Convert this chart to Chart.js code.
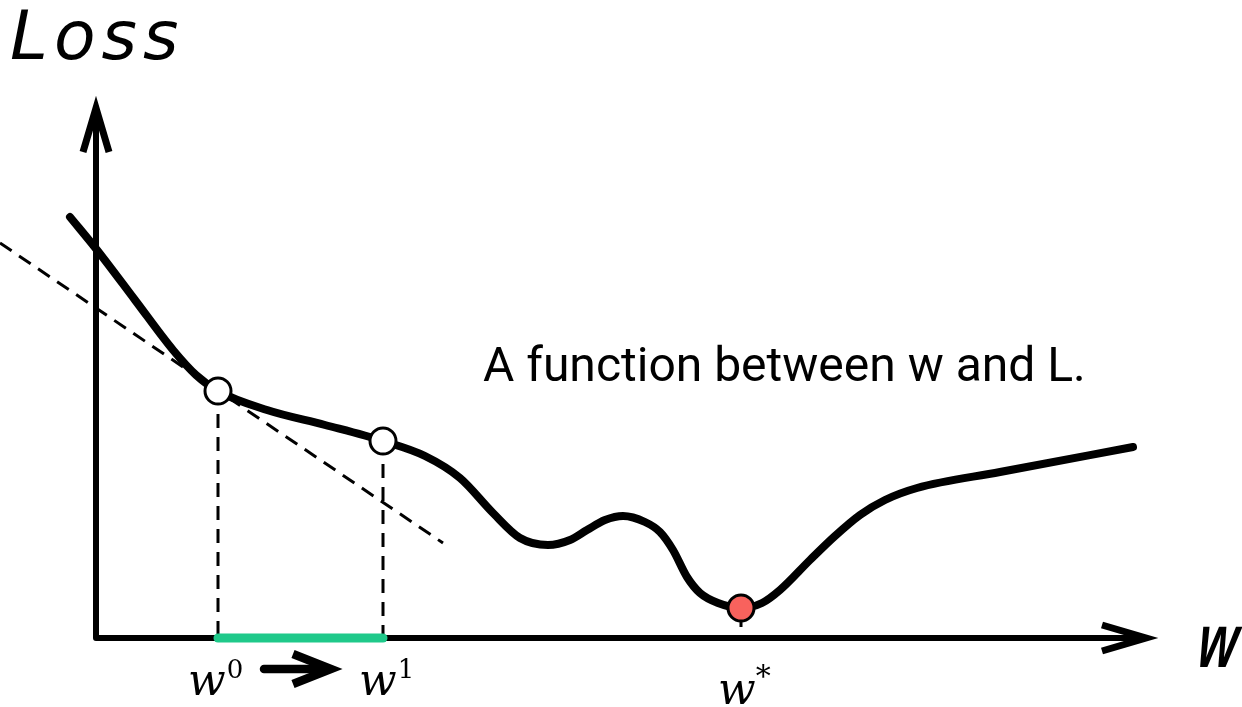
<!DOCTYPE html>
<html>
<head>
<meta charset="utf-8">
<script src="https://cdn.jsdelivr.net/npm/chart.js@4/dist/chart.umd.min.js"></script>
<style>
  html, body { margin: 0; padding: 0; background: #fff; }
  #wrap { width: 1242px; height: 707px; }
</style>
</head>
<body>
<div id="wrap"><canvas id="c" width="1242" height="707"></canvas></div>
<script>
// ---- data (w = weight, L = loss) ----
const curveW = [-0.26, 0.01, 0.39, 0.77, 1.00, 1.22, 1.71, 2.29, 2.87, 3.29, 3.64, 3.97, 4.24, 4.52, 4.74, 4.91, 5.09, 5.27, 5.49, 5.64, 5.77, 5.91, 6.04, 6.22, 6.45, 6.66, 6.84, 7.14, 7.39, 7.64, 7.89, 8.21, 9.04, 10.37];
const curveL = [4.21, 3.88, 3.38, 2.88, 2.63, 2.47, 2.28, 2.13, 1.97, 1.82, 1.60, 1.25, 1.00, 0.93, 0.98, 1.08, 1.18, 1.22, 1.16, 1.06, 0.88, 0.61, 0.45, 0.35, 0.30, 0.35, 0.48, 0.78, 1.02, 1.23, 1.38, 1.50, 1.66, 1.91];

const markerW = [1.22, 2.87, 6.45];
const markerL = [2.47, 1.97, 0.30];
const markerSup = ['0', '1', '*'];
const markerFill = ['#ffffff', '#ffffff', '#f8625d'];

const tangentW = [-0.96, 3.47];
const tangentL = [3.95, 0.95];

const axisW = [0, 10.50];
const axisL = [0, 5.30];

const axisTitleL = 'Loss';
const axisTitleW = 'w';
const note = 'A function between w and L.';

// ---- helpers ----
const pts = (xs, ys) => xs.map((v, i) => ({ x: v, y: ys[i] }));

const overlay = {
  id: 'overlay',
  afterDatasetsDraw(chart) {
    const { ctx, scales: { x, y } } = chart;
    const chevron = (tx, ty, dx, dy, len, half, lw) => {
      const bx = tx - dx * len, by = ty - dy * len;
      const nx = -dy, ny = dx;
      ctx.save();
      ctx.strokeStyle = '#000';
      ctx.lineWidth = lw;
      ctx.lineJoin = 'miter';
      ctx.lineCap = 'butt';
      ctx.beginPath();
      ctx.moveTo(bx + nx * half, by + ny * half);
      ctx.lineTo(tx, ty);
      ctx.lineTo(bx - nx * half, by - ny * half);
      ctx.stroke();
      ctx.restore();
    };
    const ox = x.getPixelForValue(0), oy = y.getPixelForValue(0);
    chevron(ox, y.getPixelForValue(axisL[1]), 0, -1, 44, 13, 7);
    chevron(x.getPixelForValue(axisW[1]), oy, 1, 0, 44, 13, 7);

    const p0 = x.getPixelForValue(markerW[0]);
    const p1 = x.getPixelForValue(markerW[1]);
    const ay = oy + 31;
    ctx.save();
    ctx.strokeStyle = '#000';
    ctx.lineWidth = 8.5;
    ctx.lineCap = 'round';
    ctx.beginPath();
    ctx.moveTo(p0 + 46, ay);
    ctx.lineTo(p1 - 54, ay);
    ctx.stroke();
    ctx.restore();
    chevron(p1 - 52, ay, 1, 0, 38, 15, 8.5);

    ctx.save();
    ctx.fillStyle = '#000';
    ctx.textBaseline = 'alphabetic';
    ctx.textAlign = 'left';
    ctx.font = 'oblique 68px "DejaVu Sans"';
    ctx.letterSpacing = '6px';
    ctx.fillText(axisTitleL, ox - 86, 59);
    ctx.letterSpacing = '0px';
    ctx.save();
    ctx.font = 'italic bold 76px "Liberation Sans"';
    ctx.translate(x.getPixelForValue(axisW[1]) + 50, oy + 29);
    ctx.transform(0.66, 0, -0.12, 1, 0, 0);
    ctx.fillText(axisTitleW, 0, 0);
    ctx.restore();
    ctx.font = '48px Roboto';
    ctx.fillText(note, 483, 381);
    const baseY = [oy + 57, oy + 57, oy + 66];
    const offX = [-30, -24, -23];
    markerW.forEach((w, i) => {
      const px = x.getPixelForValue(w) + offX[i];
      ctx.font = 'italic 44px "DejaVu Serif"';
      ctx.fillText('w', px, baseY[i]);
      const ww = ctx.measureText('w').width;
      if (markerSup[i] === '*') {
        ctx.font = '30px "DejaVu Serif"';
        ctx.fillText('*', px + ww, baseY[i] - 18);
      } else {
        ctx.font = '26px "DejaVu Serif"';
        ctx.fillText(markerSup[i], px + ww + 1, baseY[i] - 17);
      }
    });
    ctx.restore();
  }
};

const dashed = { borderColor: '#000', borderWidth: 3, borderDash: [14, 9], pointRadius: 0, tension: 0, fill: false };

new Chart(document.getElementById('c'), {
  type: 'line',
  data: {
    datasets: [
      { label: 'markers', type: 'scatter', data: pts(markerW, markerL), pointRadius: 13, pointBorderWidth: 3,
        pointBackgroundColor: markerFill, pointBorderColor: '#000', order: 0 },
      { label: 'loss', data: pts(curveW, curveL), borderColor: '#000', borderWidth: 8, pointRadius: 0,
        cubicInterpolationMode: 'monotone', borderCapStyle: 'round', borderJoinStyle: 'round', fill: false, order: 1 },
      { label: 'step', data: [{ x: markerW[0], y: 0 }, { x: markerW[1], y: 0 }], borderColor: '#1fc98a', borderWidth: 9,
        pointRadius: 0, borderCapStyle: 'round', fill: false, order: 2 },
      { label: 'axes', data: [{ x: 0, y: axisL[1] }, { x: 0, y: 0 }, { x: axisW[1], y: 0 }], borderColor: '#000', borderWidth: 6,
        pointRadius: 0, tension: 0, borderJoinStyle: 'round', fill: false, order: 3 },
      Object.assign({ label: 'tangent', data: pts(tangentW, tangentL), order: 4 }, dashed),
      Object.assign({ label: 'v0', data: [{ x: markerW[0], y: markerL[0] }, { x: markerW[0], y: 0 }], order: 4 }, dashed),
      Object.assign({ label: 'v1', data: [{ x: markerW[1], y: markerL[1] }, { x: markerW[1], y: 0 }], order: 4 }, dashed),
      { label: 'vs', data: [{ x: markerW[2], y: markerL[2] }, { x: markerW[2], y: 0.11 }], borderColor: '#000', borderWidth: 3,
        pointRadius: 0, fill: false, order: 4 }
    ]
  },
  options: {
    responsive: false,
    animation: false,
    devicePixelRatio: 1,
    layout: { padding: 0, autoPadding: false },
    scales: {
      x: { type: 'linear', min: -0.96, max: 11.46, display: false },
      y: { type: 'linear', min: -0.69, max: 6.38, display: false }
    },
    plugins: { legend: { display: false }, tooltip: { enabled: false } }
  },
  plugins: [overlay]
});
</script>
</body>
</html>
